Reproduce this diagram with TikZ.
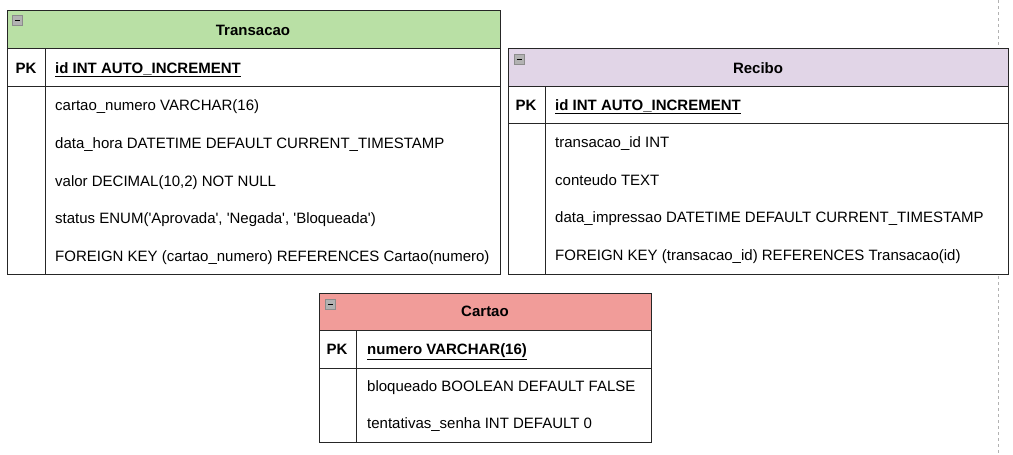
\documentclass[tikz,border=0pt]{standalone}
\usepackage{fontspec}
\setmainfont{Liberation Sans}
\begin{document}
\begin{tikzpicture}[x=1pt, y=-1pt,
    tabhead/.style={draw=black!85, line width=0.8pt},
    tabbody/.style={draw=black!85, line width=0.8pt},
    title/.style={anchor=base, inner sep=0pt, font=\fontsize{15}{17}\selectfont\bfseries},
    pk/.style={anchor=base, inner sep=0pt, font=\fontsize{15}{17}\selectfont\bfseries},
    field/.style={anchor=base west, inner sep=0pt, font=\fontsize{15}{17}\selectfont},
    keyfield/.style={anchor=base west, inner sep=0pt, font=\fontsize{15}{17}\selectfont\bfseries},
    icon/.style={fill=black!30, draw=black!45, line width=0.5pt}
]
    \useasboundingbox (0,0) rectangle (1013,455);
    \definecolor{hgreen}{HTML}{B9E0A5}
    \definecolor{hpurple}{HTML}{E1D5E7}
    \definecolor{hred}{HTML}{F19C99}
    \newcommand{\sq}{\textquotesingle}

    % page border
    \draw[black!30, dashed, line width=0.6pt] (998,0) -- (998,455);

    % Transacao
    \draw[tabhead, fill=hgreen] (7,10) rectangle (500,48);
    \draw[tabbody, fill=white] (7,48) rectangle (500,274);
    \draw[tabbody] (7,86) -- (500,86);
    \draw[tabbody] (45,48) -- (45,274);
    \draw[icon] (12,15) rectangle (22,25);
    \draw[line width=1pt] (14.5,20) -- (19.5,20);
    \node[title] (transacao) at (253,35.5) {Transacao};
    \node[pk] (transacaopk) at (26,73) {PK};
    \node[keyfield] (transacaoid) at (55,73) {\underline{id INT AUTO\_INCREMENT}};
    \node[field] (cartaonumero) at (55,110.5) {cartao\_numero VARCHAR(16)};
    \node[field] (datahora) at (55,148.5) {data\_hora DATETIME DEFAULT CURRENT\_TIMESTAMP};
    \node[field] (valor) at (55,186.5) {valor DECIMAL(10,2) NOT NULL};
    \node[field] (status) at (55,223.5) {status ENUM(\sq Aprovada\sq, \sq Negada\sq, \sq Bloqueada\sq)};
    \node[field] (fkcartao) at (55,261.5) {FOREIGN KEY (cartao\_numero) REFERENCES Cartao(numero)};

    % Recibo
    \draw[tabhead, fill=hpurple] (508,48) rectangle (1008,86);
    \draw[tabbody, fill=white] (508,86) rectangle (1008,274);
    \draw[tabbody] (508,123) -- (1008,123);
    \draw[tabbody] (545,86) -- (545,274);
    \draw[icon] (514,54) rectangle (524,64);
    \draw[line width=1pt] (516.5,59) -- (521.5,59);
    \node[title] (recibo) at (758,73.5) {Recibo};
    \node[pk] (recibopk) at (526,110) {PK};
    \node[keyfield] (reciboid) at (555,110) {\underline{id INT AUTO\_INCREMENT}};
    \node[field] (transacaoidfld) at (555,147.5) {transacao\_id INT};
    \node[field] (conteudo) at (555,185.5) {conteudo TEXT};
    \node[field] (dataimpressao) at (555,222.5) {data\_impressao DATETIME DEFAULT CURRENT\_TIMESTAMP};
    \node[field] (fktransacao) at (555,260.5) {FOREIGN KEY (transacao\_id) REFERENCES Transacao(id)};

    % Cartao
    \draw[tabhead, fill=hred] (319,293) rectangle (651,330);
    \draw[tabbody, fill=white] (319,330) rectangle (651,442);
    \draw[tabbody] (319,368) -- (651,368);
    \draw[tabbody] (356,330) -- (356,442);
    \draw[icon] (325,299) rectangle (335,309);
    \draw[line width=1pt] (327.5,304) -- (332.5,304);
    \node[title] (cartao) at (485,316.5) {Cartao};
    \node[pk] (cartaopk) at (337,354.5) {PK};
    \node[keyfield] (cartaonum) at (367,354.5) {\underline{numero VARCHAR(16)}};
    \node[field] (bloqueado) at (367,391.5) {bloqueado BOOLEAN DEFAULT FALSE};
    \node[field] (tentativas) at (367,428.5) {tentativas\_senha INT DEFAULT 0};
\end{tikzpicture}
\end{document}
